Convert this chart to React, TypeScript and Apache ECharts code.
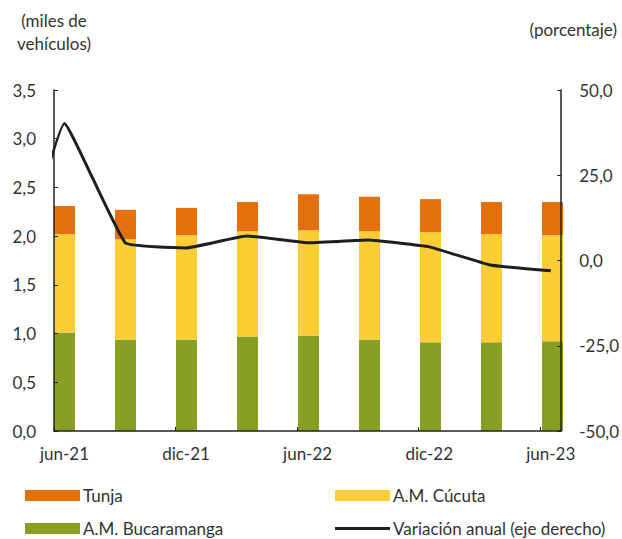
import React, { useEffect, useRef } from "react";
import * as echarts from "echarts";

// ---- data ----
const categories = ["jun-21", "sep-21", "dic-21", "mar-22", "jun-22", "sep-22", "dic-22", "mar-23", "jun-23"];
const bucaramanga = [1.01, 0.94, 0.94, 0.97, 0.98, 0.94, 0.91, 0.91, 0.92];
const cucuta = [1.01, 1.03, 1.07, 1.08, 1.08, 1.11, 1.13, 1.11, 1.09];
const tunja = [0.29, 0.3, 0.28, 0.3, 0.37, 0.355, 0.34, 0.33, 0.34];
const variationPrev = -22; // mar-21 (falls outside the plot area, clipped)
const variation = [40.2, 5.2, 3.7, 7.2, 5.2, 6.0, 4.0, -1.3, -3.0];
const seriesNames = ["Tunja", "A.M. Cúcuta", "A.M. Bucaramanga", "Variación anual (eje derecho)"];

// ---- layout / style ----
const FONT = "Lato";
const FS = 17;
const TEXT = "#333333";
const AXIS = "#222222";
const COLORS = { tunja: "#E4700D", cucuta: "#FDCD35", buca: "#86A024", line: "#1e1e1e" };
const GRID = { left: 54, right: 59, top: 90, bottom: 108 };
const BAR_W = 21;
const labelEvery = 2;

const fmt1 = (v: number) => v.toFixed(1).replace(".", ",");

export default function App() {
  const ref = useRef<HTMLDivElement>(null);
  useEffect(() => {
    if (!ref.current) return;
    const chart = echarts.init(ref.current, undefined, { renderer: "svg" });
    const W = 622;
    const n = categories.length;
    const plotW = W - GRID.left - GRID.right;
    // band spacing such that the first bar starts at the left axis and the last ends at the right axis
    const band = (plotW - BAR_W) / (n - 1);
    const off = BAR_W / 2 / band; // axis offset in category units
    const barGridLeft = GRID.left + BAR_W / 2 - band / 2;
    const barGridRight = W - (barGridLeft + band * n);

    const idx = categories.map((_, i) => i);
    const labelVals = idx.filter((i) => i % labelEvery === 0);
    const tickVals = labelVals.map((i) => i - off);
    const legendCommon = {
      itemWidth: 55,
      itemHeight: 11,
      itemGap: 0,
      textStyle: { fontFamily: FONT, fontSize: FS, color: TEXT, padding: [0, 0, 0, -2] },
      selectedMode: false as const,
    };
    chart.setOption({
      animation: false,
      textStyle: { fontFamily: FONT },
      grid: [
        { ...GRID },
        { left: barGridLeft, right: barGridRight, top: GRID.top, bottom: GRID.bottom },
      ],
      xAxis: [
        {
          type: "value",
          gridIndex: 0,
          z: 10,
          min: -off,
          max: n - 1 + off,
          axisLine: { show: true, onZero: false, lineStyle: { color: AXIS, width: 1.5 } },
          axisTick: { show: true, inside: true, length: 4, customValues: tickVals, lineStyle: { color: AXIS } },
          axisLabel: {
            customValues: labelVals,
            formatter: (v: number) => categories[Math.round(v)] ?? "",
            fontFamily: FONT,
            fontSize: FS,
            color: TEXT,
            margin: 14,
          },
          splitLine: { show: false },
        },
        {
          type: "category",
          gridIndex: 1,
          data: categories,
          boundaryGap: true,
          show: false,
        },
      ],
      yAxis: [
        {
          type: "value",
          gridIndex: 0,
          z: 10,
          min: 0,
          max: 3.5,
          interval: 0.5,
          position: "left",
          axisLine: { show: true, onZero: false, lineStyle: { color: AXIS, width: 1.5 } },
          axisTick: { show: true, inside: true, length: 4, lineStyle: { color: AXIS } },
          axisLabel: { formatter: fmt1, fontFamily: FONT, fontSize: FS, color: TEXT, margin: 18 },
          splitLine: { show: false },
        },
        {
          type: "value",
          gridIndex: 0,
          z: 10,
          min: -50,
          max: 50,
          interval: 25,
          position: "right",
          axisLine: { show: true, onZero: false, lineStyle: { color: AXIS, width: 1.5 } },
          axisTick: { show: true, inside: true, length: 4, lineStyle: { color: AXIS } },
          axisLabel: { formatter: fmt1, fontFamily: FONT, fontSize: FS, color: TEXT, margin: 18 },
          splitLine: { show: false },
        },
        {
          type: "value",
          gridIndex: 1,
          min: 0,
          max: 3.5,
          show: false,
        },
      ],
      legend: [
        { ...legendCommon, data: [{ name: seriesNames[0], icon: "rect" }], left: 20, top: 482 },
        { ...legendCommon, data: [{ name: seriesNames[1], icon: "rect" }], left: 330, top: 482 },
        { ...legendCommon, data: [{ name: seriesNames[2], icon: "rect" }], left: 20, top: 515 },
        {
          ...legendCommon,
          itemHeight: 3,
          data: [{ name: seriesNames[3], icon: "rect", itemStyle: { color: COLORS.line } }],
          left: 330,
          top: 515,
        },
      ],
      graphic: [
        {
          type: "text",
          x: 54,
          y: 9,
          style: {
            text: "(miles de\nvehículos)",
            fontFamily: FONT,
            fontSize: FS,
            lineHeight: 23,
            fill: TEXT,
            align: "center",
            verticalAlign: "top",
          },
        },
        {
          type: "text",
          x: 617,
          y: 21,
          style: { text: "(porcentaje)", fontFamily: FONT, fontSize: FS, fill: TEXT, align: "right", verticalAlign: "top" },
        },
      ],
      series: [
        {
          name: seriesNames[2],
          type: "bar",
          xAxisIndex: 1,
          yAxisIndex: 2,
          stack: "t",
          barWidth: BAR_W,
          itemStyle: { color: COLORS.buca },
          data: bucaramanga,
        },
        {
          name: seriesNames[1],
          type: "bar",
          xAxisIndex: 1,
          yAxisIndex: 2,
          stack: "t",
          barWidth: BAR_W,
          itemStyle: { color: COLORS.cucuta },
          data: cucuta,
        },
        {
          name: seriesNames[0],
          type: "bar",
          xAxisIndex: 1,
          yAxisIndex: 2,
          stack: "t",
          barWidth: BAR_W,
          itemStyle: { color: COLORS.tunja },
          data: tunja,
        },
        {
          name: seriesNames[3],
          type: "line",
          xAxisIndex: 0,
          yAxisIndex: 1,
          symbol: "none",
          smooth: 0.1,
          clip: true,
          lineStyle: { color: COLORS.line, width: 3 },
          itemStyle: { color: COLORS.line },
          z: 5,
          data: [[-1, variationPrev], ...idx.map((i) => [i, variation[i]])],
        },
      ],
    });
    return () => chart.dispose();
  }, []);
  return <div ref={ref} style={{ width: 622, height: 539, position: "absolute", left: 0, top: 0 }} />;
}
